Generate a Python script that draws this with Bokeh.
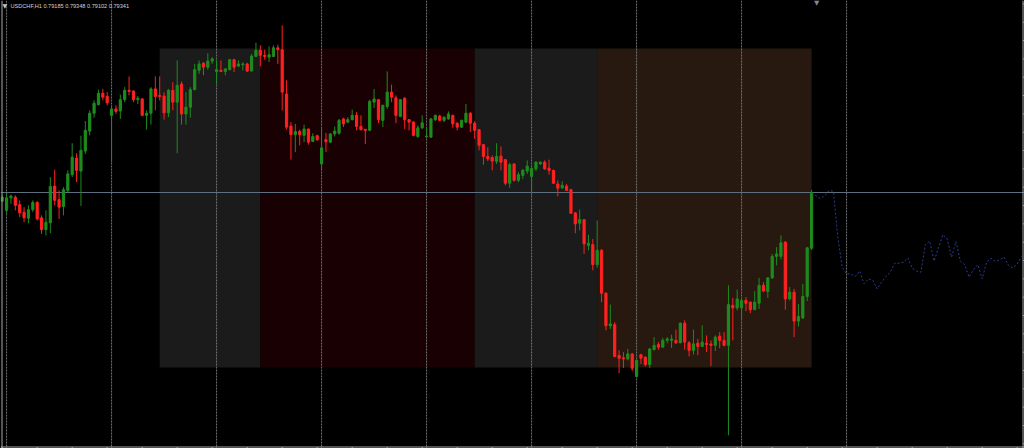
import numpy as np
from bokeh.plotting import figure
from bokeh.models import ColumnDataSource, Range1d, Span, Label, GlobalInlineStyleSheet
from bokeh.embed import file_html
from bokeh.resources import INLINE

# ---------------- data (USDCHF, H1) ----------------
title_text = "USDCHF,H1  0.79185 0.79348 0.79102 0.79341"

opens = [0.79317, 0.79291, 0.79326, 0.79328, 0.79307, 0.79286, 0.79269, 0.79293, 0.79313, 0.79270,
         0.79237, 0.79256, 0.79359, 0.79321, 0.79302, 0.79347, 0.79391, 0.79437, 0.79401, 0.79457,
         0.79513, 0.79563, 0.79587, 0.79619, 0.79610, 0.79557, 0.79575, 0.79569, 0.79601, 0.79627,
         0.79625, 0.79601, 0.79603, 0.79557, 0.79563, 0.79631, 0.79613, 0.79611, 0.79564, 0.79627,
         0.79594, 0.79645, 0.79561, 0.79580, 0.79629, 0.79683, 0.79703, 0.79692, 0.79709, 0.79680,
         0.79683, 0.79680, 0.79685, 0.79713, 0.79695, 0.79699, 0.79701, 0.79681, 0.79722, 0.79739,
         0.79725, 0.79720, 0.79722, 0.79746, 0.79741, 0.79617, 0.79527, 0.79503, 0.79512, 0.79501,
         0.79519, 0.79484, 0.79500, 0.79421, 0.79489, 0.79482, 0.79505, 0.79507, 0.79547, 0.79538,
         0.79545, 0.79557, 0.79526, 0.79518, 0.79515, 0.79594, 0.79601, 0.79543, 0.79582, 0.79622,
         0.79606, 0.79554, 0.79605, 0.79545, 0.79538, 0.79498, 0.79522, 0.79497, 0.79496, 0.79545,
         0.79555, 0.79543, 0.79547, 0.79557, 0.79535, 0.79524, 0.79538, 0.79563, 0.79535, 0.79517,
         0.79475, 0.79442, 0.79439, 0.79428, 0.79443, 0.79433, 0.79367, 0.79421, 0.79375, 0.79389,
         0.79401, 0.79386, 0.79407, 0.79421, 0.79426, 0.79409, 0.79403, 0.79365, 0.79354, 0.79359,
         0.79349, 0.79284, 0.79255, 0.79265, 0.79193, 0.79195, 0.79139, 0.79179, 0.79059, 0.78968,
         0.78971, 0.78885, 0.78878, 0.78875, 0.78889, 0.78826, 0.78887, 0.78880, 0.78859, 0.78901,
         0.78915, 0.78908, 0.78927, 0.78927, 0.78927, 0.78920, 0.78975, 0.78920, 0.78899, 0.78919,
         0.78910, 0.78919, 0.78917, 0.78913, 0.78939, 0.78927, 0.78913, 0.79025, 0.79018, 0.79018,
         0.79039, 0.79034, 0.79013, 0.79031, 0.79081, 0.79064, 0.79102, 0.79162, 0.79162, 0.79202,
         0.79043, 0.79062, 0.78981, 0.78990, 0.79050, 0.79185]

highs = [0.79333, 0.79339, 0.79335, 0.79333, 0.79319, 0.79300, 0.79305, 0.79319, 0.79317, 0.79277,
         0.79291, 0.79384, 0.79405, 0.79347, 0.79356, 0.79403, 0.79479, 0.79451, 0.79500, 0.79541,
         0.79571, 0.79599, 0.79629, 0.79631, 0.79622, 0.79585, 0.79585, 0.79615, 0.79636, 0.79666,
         0.79627, 0.79611, 0.79605, 0.79571, 0.79636, 0.79666, 0.79666, 0.79622, 0.79631, 0.79650,
         0.79711, 0.79652, 0.79622, 0.79636, 0.79701, 0.79711, 0.79706, 0.79731, 0.79720, 0.79711,
         0.79711, 0.79689, 0.79715, 0.79715, 0.79711, 0.79706, 0.79704, 0.79729, 0.79760, 0.79753,
         0.79741, 0.79750, 0.79753, 0.79755, 0.79809, 0.79655, 0.79538, 0.79533, 0.79517, 0.79531,
         0.79519, 0.79507, 0.79503, 0.79524, 0.79508, 0.79507, 0.79526, 0.79547, 0.79550, 0.79552,
         0.79573, 0.79566, 0.79557, 0.79518, 0.79601, 0.79631, 0.79603, 0.79587, 0.79680, 0.79643,
         0.79613, 0.79603, 0.79608, 0.79547, 0.79541, 0.79529, 0.79557, 0.79523, 0.79550, 0.79559,
         0.79559, 0.79554, 0.79568, 0.79559, 0.79538, 0.79545, 0.79589, 0.79566, 0.79541, 0.79519,
         0.79477, 0.79468, 0.79445, 0.79479, 0.79470, 0.79435, 0.79424, 0.79423, 0.79398, 0.79407,
         0.79431, 0.79412, 0.79428, 0.79428, 0.79431, 0.79433, 0.79405, 0.79375, 0.79372, 0.79365,
         0.79351, 0.79286, 0.79293, 0.79265, 0.79223, 0.79211, 0.79263, 0.79183, 0.79062, 0.79027,
         0.78978, 0.78899, 0.78894, 0.78903, 0.78891, 0.78873, 0.78889, 0.78882, 0.78905, 0.78936,
         0.78922, 0.78934, 0.78936, 0.78943, 0.78957, 0.78977, 0.78983, 0.78925, 0.78957, 0.78931,
         0.78969, 0.78941, 0.78927, 0.78941, 0.78950, 0.78950, 0.79081, 0.79046, 0.79069, 0.79041,
         0.79048, 0.79036, 0.79065, 0.79102, 0.79090, 0.79104, 0.79169, 0.79188, 0.79221, 0.79205,
         0.79076, 0.79071, 0.79029, 0.79085, 0.79188, 0.79348]

lows = [0.79314, 0.79282, 0.79309, 0.79291, 0.79272, 0.79258, 0.79255, 0.79286, 0.79263, 0.79225,
        0.79221, 0.79227, 0.79305, 0.79267, 0.79277, 0.79342, 0.79384, 0.79370, 0.79303, 0.79449,
        0.79501, 0.79550, 0.79585, 0.79599, 0.79585, 0.79426, 0.79561, 0.79547, 0.79594, 0.79613,
        0.79594, 0.79589, 0.79555, 0.79517, 0.79531, 0.79571, 0.79599, 0.79545, 0.79552, 0.79571,
        0.79451, 0.79531, 0.79531, 0.79550, 0.79627, 0.79673, 0.79669, 0.79685, 0.79701, 0.79645,
        0.79678, 0.79669, 0.79683, 0.79678, 0.79692, 0.79683, 0.79678, 0.79681, 0.79720, 0.79694,
        0.79713, 0.79706, 0.79720, 0.79701, 0.79571, 0.79517, 0.79433, 0.79454, 0.79473, 0.79482,
        0.79475, 0.79482, 0.79485, 0.79405, 0.79454, 0.79479, 0.79498, 0.79503, 0.79524, 0.79535,
        0.79543, 0.79515, 0.79515, 0.79477, 0.79513, 0.79578, 0.79535, 0.79524, 0.79575, 0.79594,
        0.79535, 0.79552, 0.79519, 0.79515, 0.79498, 0.79494, 0.79519, 0.79494, 0.79494, 0.79541,
        0.79541, 0.79538, 0.79545, 0.79522, 0.79515, 0.79522, 0.79535, 0.79510, 0.79491, 0.79459,
        0.79419, 0.79429, 0.79403, 0.79421, 0.79403, 0.79361, 0.79354, 0.79372, 0.79370, 0.79379,
        0.79393, 0.79333, 0.79401, 0.79419, 0.79405, 0.79391, 0.79365, 0.79330, 0.79351, 0.79345,
        0.79281, 0.79227, 0.79235, 0.79169, 0.79179, 0.79123, 0.79130, 0.79034, 0.78955, 0.78959,
        0.78880, 0.78835, 0.78850, 0.78871, 0.78841, 0.78824, 0.78861, 0.78854, 0.78850, 0.78899,
        0.78901, 0.78906, 0.78919, 0.78906, 0.78917, 0.78919, 0.78901, 0.78882, 0.78887, 0.78885,
        0.78908, 0.78894, 0.78855, 0.78897, 0.78905, 0.78910, 0.78661, 0.78927, 0.79011, 0.78983,
        0.79009, 0.79003, 0.79012, 0.79015, 0.79062, 0.79046, 0.79099, 0.79137, 0.79153, 0.79013,
        0.79039, 0.78936, 0.78966, 0.78987, 0.79037, 0.79180]

closes = [0.79328, 0.79326, 0.79331, 0.79305, 0.79284, 0.79270, 0.79293, 0.79313, 0.79267, 0.79237,
          0.79258, 0.79358, 0.79319, 0.79300, 0.79349, 0.79393, 0.79440, 0.79403, 0.79459, 0.79515,
          0.79563, 0.79591, 0.79619, 0.79608, 0.79592, 0.79575, 0.79568, 0.79601, 0.79627, 0.79624,
          0.79601, 0.79605, 0.79557, 0.79563, 0.79631, 0.79610, 0.79610, 0.79564, 0.79627, 0.79594,
          0.79641, 0.79561, 0.79580, 0.79629, 0.79685, 0.79701, 0.79692, 0.79709, 0.79715, 0.79685,
          0.79680, 0.79687, 0.79713, 0.79692, 0.79701, 0.79701, 0.79681, 0.79723, 0.79739, 0.79725,
          0.79722, 0.79727, 0.79746, 0.79741, 0.79622, 0.79524, 0.79503, 0.79512, 0.79503, 0.79519,
          0.79482, 0.79498, 0.79489, 0.79466, 0.79483, 0.79505, 0.79513, 0.79543, 0.79533, 0.79545,
          0.79557, 0.79526, 0.79517, 0.79515, 0.79596, 0.79603, 0.79545, 0.79585, 0.79622, 0.79608,
          0.79557, 0.79601, 0.79545, 0.79538, 0.79501, 0.79522, 0.79536, 0.79499, 0.79547, 0.79557,
          0.79543, 0.79552, 0.79561, 0.79533, 0.79524, 0.79543, 0.79563, 0.79535, 0.79515, 0.79473,
          0.79442, 0.79435, 0.79429, 0.79442, 0.79426, 0.79367, 0.79419, 0.79375, 0.79391, 0.79403,
          0.79415, 0.79408, 0.79426, 0.79426, 0.79407, 0.79403, 0.79367, 0.79353, 0.79361, 0.79347,
          0.79283, 0.79253, 0.79265, 0.79197, 0.79199, 0.79139, 0.79179, 0.79059, 0.78968, 0.78973,
          0.78882, 0.78877, 0.78875, 0.78889, 0.78849, 0.78871, 0.78877, 0.78859, 0.78903, 0.78913,
          0.78908, 0.78927, 0.78931, 0.78931, 0.78920, 0.78975, 0.78922, 0.78899, 0.78917, 0.78910,
          0.78922, 0.78915, 0.78913, 0.78936, 0.78927, 0.78913, 0.79027, 0.79018, 0.79043, 0.79039,
          0.79031, 0.79013, 0.79034, 0.79081, 0.79065, 0.79102, 0.79162, 0.79169, 0.79200, 0.79043,
          0.79062, 0.78981, 0.78994, 0.79050, 0.79186, 0.79341]

bars = list(range(len(opens)))

# projected path (dotted blue line to the right of the last bar)
proj_bars = list(range(185, 234))
proj_values = [0.79338, 0.79332, 0.79324, 0.79332, 0.79347, 0.79344, 0.79216, 0.79132, 0.79113, 0.79113,
               0.79106, 0.79121, 0.79085, 0.79099, 0.79095, 0.79071, 0.79090, 0.79106, 0.79118, 0.79143,
               0.79143, 0.79146, 0.79158, 0.79129, 0.79121, 0.79118, 0.79195, 0.79205, 0.79149, 0.79186,
               0.79223, 0.79211, 0.79160, 0.79204, 0.79149, 0.79139, 0.79104, 0.79125, 0.79139, 0.79099,
               0.79146, 0.79157, 0.79148, 0.79153, 0.79160, 0.79137, 0.79130, 0.79141, 0.79162]

# shaded session rectangles (bar index from / to, price top / bottom)
zone_start = [36, 59, 108, 136]
zone_end = [59, 108, 136, 185]
zone_top = [0.79744, 0.79744, 0.79744, 0.79744]
zone_bottom = [0.78851, 0.78851, 0.78851, 0.78851]
zone_colors = ["#1b1b1b", "#190103", "#1b1b1b", "#27190f"]

# day separators (every 24 H1 bars)
day_starts = [1, 25, 49, 73, 97, 121, 145, 169, 193]
bid = closes[-1]

# ---------------- layout constants ----------------
W, H = 1024, 448
PX_PER_BAR = 4.375
X0 = 1.7
PRICE_TOP = 0.798786
PRICE_PER_PX = 0.000028


def bar_at(px):
    return (px - X0) / PX_PER_BAR


def price_at(py):
    return PRICE_TOP - py * PRICE_PER_PX


BULL = "#1d8c1d"
BEAR = "#ff2020"

p = figure(width=W, height=H, output_backend="svg", toolbar_location=None,
           x_range=Range1d(bar_at(0), bar_at(W)), y_range=Range1d(price_at(H), price_at(0)),
           x_axis_location=None, y_axis_location=None, min_border=0,
           background_fill_color="#000000", border_fill_color="#000000",
           outline_line_color=None, title=None)
p.grid.visible = False
p.stylesheets = [GlobalInlineStyleSheet(css="html, body {margin:0 !important; padding:0; background:#000; overflow:hidden;}")]

# rectangles
zsrc = ColumnDataSource(dict(left=zone_start, right=zone_end, top=zone_top, bottom=zone_bottom, color=zone_colors))
zr = p.quad(left="left", right="right", top="top", bottom="bottom", fill_color="color",
            line_color=None, source=zsrc)
zr.level = "image"

# day separators
for d in day_starts:
    p.add_layout(Span(location=d, dimension="height", line_color="#747474", line_width=1,
                      line_dash="2 1", level="underlay"))

# bid line
p.add_layout(Span(location=bid, dimension="width", line_color="#5f6f82", line_width=1, level="underlay"))

# candles
o = np.array(opens); c = np.array(closes)
up = c >= o
csrc = ColumnDataSource(dict(
    x=bars, high=highs, low=lows,
    top=np.maximum(o, c), bottom=np.minimum(o, c),
    color=[BULL if u else BEAR for u in up],
))
p.segment(x0="x", y0="high", x1="x", y1="low", line_color="color", line_width=1, source=csrc)
p.vbar(x="x", width=0.5, top="top", bottom="bottom", fill_color="color", line_color="color",
       line_width=1, source=csrc)

# projection
p.line(proj_bars, proj_values, line_color="#2b3c90", line_width=1, line_dash="2 2")

# frame borders and ticks
border = "#a8a8a8"
p.add_layout(Span(location=bar_at(1.5), dimension="height", line_color=border, line_width=1))
p.add_layout(Span(location=price_at(446.5), dimension="width", line_color=border, line_width=1))
p.add_layout(Span(location=bar_at(1022.5), dimension="height", line_color=border, line_width=1))
tick_bars = list(range(0, 234, 8))
p.segment(x0=tick_bars, x1=tick_bars, y0=[price_at(446.5)] * len(tick_bars),
          y1=[price_at(450)] * len(tick_bars), line_color=border, line_width=1)
tick_py = [186.7 + 18.33 * k for k in range(-10, 15) if 0 < 186.7 + 18.33 * k < 446]
p.segment(x0=[bar_at(1022.5)] * len(tick_py), x1=[bar_at(1026)] * len(tick_py),
          y0=[price_at(v) for v in tick_py], y1=[price_at(v) for v in tick_py],
          line_color=border, line_width=1)

# texts
p.add_layout(Label(x=2, y=H - 5, x_units="screen", y_units="screen", text="▼",
                   text_font="DejaVu Sans", text_font_size="6px", text_color="#c8c8c8",
                   text_baseline="middle"))
p.add_layout(Label(x=10, y=H - 5.5, x_units="screen", y_units="screen", text=title_text,
                   text_font="Liberation Sans", text_font_size="5.6px", text_color="#d4d4d4",
                   text_baseline="middle"))
p.add_layout(Label(x=813.5, y=H - 2, x_units="screen", y_units="screen", text="▼",
                   text_font="DejaVu Sans", text_font_size="7px", text_color="#7d8a9a",
                   text_baseline="middle"))

open("out.html", "w").write(file_html(p, INLINE))
